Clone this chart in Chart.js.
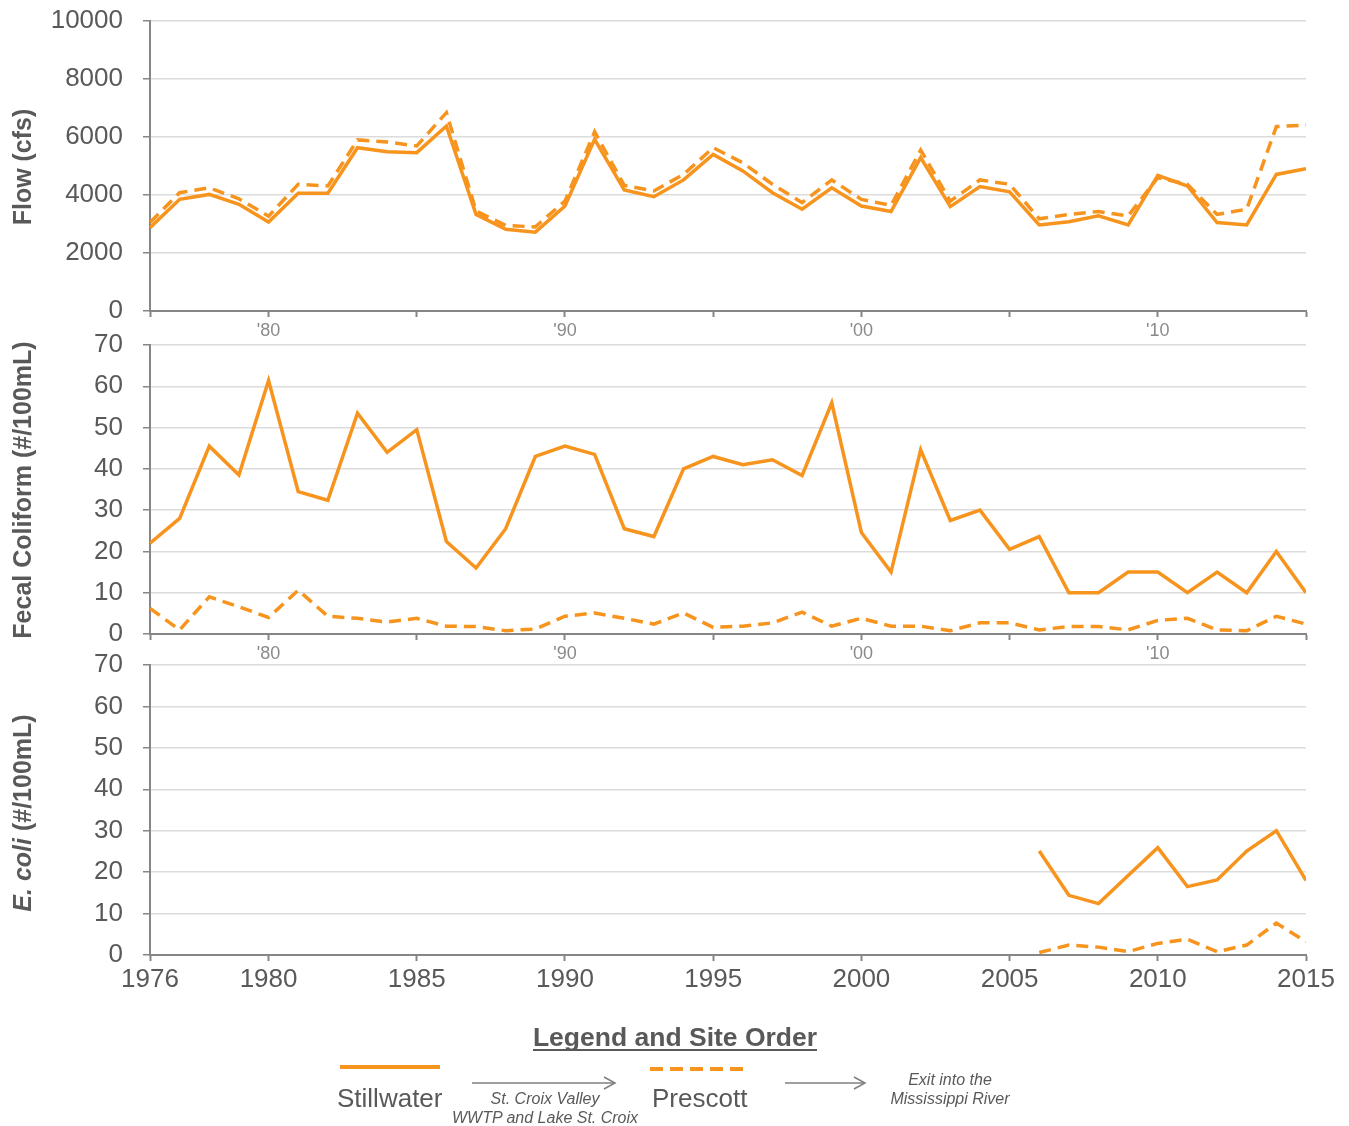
<!DOCTYPE html>
<html>
<head>
<meta charset="utf-8">
<script src="https://cdn.jsdelivr.net/npm/chart.js@4.4.1/dist/chart.umd.min.js"></script>
<style>
  body { margin: 0; background: #fff; font-family: "Liberation Sans", Arial, sans-serif; color: #595959; }
  #wrap { position: relative; width: 1349px; height: 1126px; overflow: hidden; }
  canvas { position: absolute; left: 0; }
  .ytitle { position: absolute; left: 22px; transform: translate(-50%, -50%) rotate(-90deg);
            font-weight: bold; font-size: 25px; white-space: nowrap; color: #595959; }
  #legend { position: absolute; left: 0; top: 1000px; }
</style>
</head>
<body>
<div id="wrap">
  <canvas id="flowChart" width="1349" height="341" style="top:0px"></canvas>
  <canvas id="fecalChart" width="1349" height="339" style="top:325px"></canvas>
  <canvas id="ecoliChart" width="1349" height="352" style="top:645px"></canvas>

  <div class="ytitle" style="top:167px">Flow (cfs)</div>
  <div class="ytitle" style="top:490px">Fecal Coliform (#/100mL)</div>
  <div class="ytitle" style="top:813px"><i>E. coli</i> (#/100mL)</div>

  <svg id="legend" width="1349" height="126" font-family="Liberation Sans, Arial, sans-serif" fill="#595959">
    <text x="675" y="46" text-anchor="middle" font-size="26.5" font-weight="bold">Legend and Site Order</text>
    <line x1="533" y1="50" x2="817" y2="50" stroke="#595959" stroke-width="2"/>

    <line x1="340" y1="67" x2="440" y2="67" stroke="#F7941E" stroke-width="4"/>
    <text x="337" y="107" font-size="26">Stillwater</text>

    <line x1="472" y1="83" x2="615" y2="83" stroke="#7f7f7f" stroke-width="1.5"/>
    <polyline points="604,77 615,83 604,89" fill="none" stroke="#7f7f7f" stroke-width="1.5"/>
    <text x="545" y="104" text-anchor="middle" font-size="16" font-style="italic">St. Croix Valley</text>
    <text x="545" y="123" text-anchor="middle" font-size="16" font-style="italic">WWTP and Lake St. Croix</text>

    <line x1="650" y1="69" x2="750" y2="69" stroke="#F7941E" stroke-width="4" stroke-dasharray="13 7"/>
    <text x="652" y="107" font-size="26">Prescott</text>

    <line x1="785" y1="83" x2="865" y2="83" stroke="#7f7f7f" stroke-width="1.5"/>
    <polyline points="854,77 865,83 854,89" fill="none" stroke="#7f7f7f" stroke-width="1.5"/>
    <text x="950" y="85" text-anchor="middle" font-size="16" font-style="italic">Exit into the</text>
    <text x="950" y="104" text-anchor="middle" font-size="16" font-style="italic">Mississippi River</text>
  </svg>
</div>

<script>
// ---- DATA ----
const years = [1976, 1977, 1978, 1979, 1980, 1981, 1982, 1983, 1984, 1985,
               1986, 1987, 1988, 1989, 1990, 1991, 1992, 1993, 1994, 1995,
               1996, 1997, 1998, 1999, 2000, 2001, 2002, 2003, 2004, 2005,
               2006, 2007, 2008, 2009, 2010, 2011, 2012, 2013, 2014, 2015];
const xTicks = [1976, 1980, 1985, 1990, 1995, 2000, 2005, 2010, 2015];

const flowStillwater = [2870, 3850, 4020, 3680, 3070, 4060, 4060, 5630, 5490, 5460,
                        6380, 3330, 2820, 2720, 3620, 5920, 4170, 3940, 4520, 5400,
                        4830, 4080, 3510, 4250, 3620, 3430, 5290, 3600, 4290, 4110,
                        2970, 3080, 3280, 2970, 4680, 4310, 3050, 2970, 4710, 4910];
const flowPrescott = [3050, 4080, 4250, 3870, 3270, 4370, 4310, 5900, 5830, 5690,
                      6840, 3450, 2950, 2900, 3790, 6180, 4330, 4140, 4710, 5630,
                      5110, 4370, 3740, 4520, 3850, 3640, 5550, 3790, 4520, 4370,
                      3180, 3330, 3430, 3280, 4600, 4370, 3330, 3510, 6360, 6410];

const fecalStillwater = [22, 28, 45.5, 38.5, 61.4, 34.5, 32.4, 53.5, 44, 49.5,
                         22.4, 16, 25.5, 43, 45.5, 43.5, 25.5, 23.6, 40, 43,
                         41, 42.2, 38.4, 56, 24.6, 15, 44.6, 27.5, 30, 20.5,
                         23.6, 10, 10, 15, 15, 10, 15, 10, 20, 10];
const fecalPrescott = [6.2, 1, 9, 6.6, 4, 10.6, 4.3, 3.8, 2.9, 3.8,
                       1.9, 1.8, 0.8, 1.2, 4.3, 5.1, 3.8, 2.4, 5.1, 1.6,
                       1.9, 2.7, 5.3, 1.9, 3.8, 1.9, 1.9, 0.8, 2.7, 2.7,
                       1, 1.8, 1.8, 1, 3.3, 3.8, 1, 0.8, 4.3, 2.4];

const ecoliStillwater = [null, null, null, null, null, null, null, null, null, null,
                         null, null, null, null, null, null, null, null, null, null,
                         null, null, null, null, null, null, null, null, null, null,
                         25.1, 14.4, 12.4, 19.2, 25.9, 16.5, 18.1, 25.1, 30, 18];
const ecoliPrescott = [null, null, null, null, null, null, null, null, null, null,
                       null, null, null, null, null, null, null, null, null, null,
                       null, null, null, null, null, null, null, null, null, null,
                       0.6, 2.4, 1.9, 0.8, 2.8, 3.8, 0.8, 2.4, 7.7, 3.2];

// ---- STYLE ----
const ORANGE = "#F7941E";
const AXIS = "#868686";
const GRID = "#DCDCDC";
const FONT = "'Liberation Sans', Arial, sans-serif";

function series(values, dashed) {
  return {
    data: years.map((y, i) => ({ x: y, y: values[i] })),
    borderColor: ORANGE,
    borderWidth: 3.5,
    borderDash: dashed ? [12, 7] : [],
    fill: false,
    spanGaps: false
  };
}

const shortYear = v => (v % 10 === 0 ? "'" + String(v).slice(2) : "");
const fullYear = v => String(v);

// ---- PANEL ----
function panel(id, datasets, yMax, yStep, opts) {
  return new Chart(document.getElementById(id), {
    type: "line",
    data: { datasets },
    options: {
      responsive: false,
      animation: false,
      layout: { padding: { top: opts.top, right: 43, left: 0, bottom: 0 } },
      plugins: { legend: { display: false }, tooltip: { enabled: false } },
      elements: { point: { radius: 0 }, line: { tension: 0 } },
      scales: {
        x: {
          type: "linear", min: 1976, max: 2015,
          afterBuildTicks: s => { s.ticks = xTicks.map(v => ({ value: v })); },
          afterFit: s => { s.height = opts.axisHeight; },
          grid: { drawOnChartArea: false, tickLength: 6, tickColor: AXIS, tickWidth: 2 },
          border: { color: AXIS, width: 2 },
          ticks: {
            autoSkip: false, maxRotation: 0, padding: 3,
            color: opts.xColor, font: { family: FONT, size: opts.xSize },
            callback: opts.xLabel
          }
        },
        y: {
          min: 0, max: yMax,
          // fixed axis width, and no extra label padding pushing the plot area
          afterFit: s => { s.width = 150; s.paddingTop = 0; s.paddingBottom = 0; },
          grid: { color: GRID, lineWidth: 1.5, tickLength: 7, tickColor: AXIS, tickWidth: 1.5 },
          border: { color: AXIS, width: 2 },
          ticks: {
            stepSize: yStep, padding: 20, color: "#595959",
            font: { family: FONT, size: 26 },
            callback: v => String(v)
          }
        }
      }
    }
  });
}

panel("flowChart", [series(flowStillwater, false), series(flowPrescott, true)], 10000, 2000,
      { top: 21, axisHeight: 30, xLabel: shortYear, xColor: "#8a8a8a", xSize: 18 });
panel("fecalChart", [series(fecalStillwater, false), series(fecalPrescott, true)], 70, 10,
      { top: 20, axisHeight: 30, xLabel: shortYear, xColor: "#8a8a8a", xSize: 18 });
panel("ecoliChart", [series(ecoliStillwater, false), series(ecoliPrescott, true)], 70, 10,
      { top: 20, axisHeight: 42, xLabel: fullYear, xColor: "#595959", xSize: 26 });
</script>
</body>
</html>
